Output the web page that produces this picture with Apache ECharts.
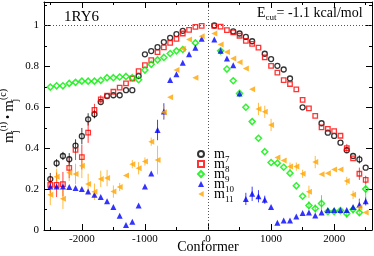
<!DOCTYPE html>
<html>
<head>
<meta charset="utf-8">
<script src="https://cdn.jsdelivr.net/npm/echarts@6/dist/echarts.min.js"></script>
<style>
html,body{margin:0;padding:0;background:#fff;}
#c{width:374px;height:256px;}
</style>
</head>
<body>
<div id="c"></div>
<script>
// Conformer positions (x)
const xs = [-2500,-2400,-2300,-2200,-2100,-2000,-1900,-1800,-1700,-1600,-1500,-1400,-1300,-1200,-1100,-1000,-900,-800,-700,-600,-500,-400,-300,-200,-100,
            100,200,300,400,500,600,700,800,900,1000,1100,1200,1300,1400,1500,1600,1700,1800,1900,2000,2100,2200,2300,2400,2500];
// series values
const m7 = [0.249,0.327,0.362,0.346,0.413,0.459,0.541,0.566,0.626,0.655,0.659,0.659,0.684,0.684,0.753,0.859,0.875,0.894,0.919,0.940,0.958,0.974,null,null,null,
            1.000,null,null,0.971,0.961,0.944,0.923,null,0.862,0.836,0.803,0.785,0.741,null,0.600,null,null,0.522,0.476,0.460,0.427,0.390,0.362,0.345,0.305];
const m8 = [0.221,0.221,0.224,0.304,0.392,0.356,0.476,0.587,0.639,0.657,0.676,0.696,0.717,0.741,0.777,0.806,0.831,0.870,0.893,0.915,0.935,0.961,0.979,0.993,0.998,
            0.998,0.995,0.977,0.966,0.950,0.925,0.910,0.892,0.844,0.803,0.770,0.733,0.714,0.688,0.636,0.595,0.558,0.502,0.495,0.484,0.461,0.400,0.350,0.275,0.245];
const m9 = [0.699,0.705,0.705,0.717,0.722,0.728,0.728,0.728,0.732,0.745,0.745,0.748,0.751,0.745,0.735,0.782,0.810,0.832,0.844,0.863,0.876,0.883,null,0.915,null,
            null,0.876,0.787,0.730,0.668,0.600,0.530,0.449,0.383,0.330,0.327,0.307,0.278,0.216,0.165,0.120,0.105,0.130,0.090,0.090,0.095,0.080,0.100,0.085,0.200];
const m10 = [0.213,0.213,0.213,0.210,0.205,0.201,0.188,0.172,0.161,0.140,0.112,0.070,0.024,0.040,0.120,0.213,0.276,0.489,0.580,0.733,0.762,0.818,0.859,0.891,0.935,
             0.932,0.876,0.839,0.806,0.668,0.152,0.177,0.165,0.148,0.113,0.036,0.046,0.046,0.066,0.083,0.086,0.071,0.086,0.098,0.098,0.098,0.098,0.112,0.123,0.140];
const m11 = [0.172,0.260,0.153,0.280,0.274,0.314,0.225,0.187,0.250,0.254,0.188,0.210,0.266,0.322,0.302,0.335,0.432,0.342,0.576,0.649,0.782,0.886,0.932,0.745,0.948,
             0.961,0.907,0.871,0.839,0.820,0.790,0.688,0.592,0.578,0.514,0.354,0.340,0.310,0.310,0.275,0.187,0.332,0.273,0.278,0.296,0.296,0.240,0.172,0.110,0.085];
// error bars: [x, half-width]
const err7 = [[-2500,0.03],[-2400,0.02],[-2300,0.02],[-2200,0.03],[-2100,0.03],[-2000,0.04],[-1900,0.03],[-1800,0.02],[2400,0.02]];
const err8 = [[-2500,0.04],[-2400,0.06],[-2300,0.06],[-2200,0.05],[-2100,0.05],[-2000,0.06],[-1900,0.05],[-1800,0.03],[-1700,0.02],[2200,0.02],[2400,0.03],[2500,0.02]];
const err9 = [[1600,0.02],[1700,0.02],[1800,0.04],[2200,0.02],[2300,0.02],[2500,0.04]];
const err10 = [[-800,0.05],[-700,0.04],[600,0.03],[700,0.035],[800,0.03],[900,0.02],[2400,0.03],[2500,0.02]];
const err11 = [[-2500,0.05],[-2400,0.04],[-2300,0.05],[-2200,0.04],[-2100,0.05],[-2000,0.06],[-1900,0.05],[-1800,0.04],[-1700,0.04],[-1600,0.04],[-1500,0.03],[-1400,0.02],
               [-1200,0.02],[-1100,0.03],[-1000,0.02],[-900,0.02],[-800,0.07],[-700,0.03],[800,0.03],[900,0.03],[1000,0.03],[1300,0.02],[1400,0.02],[1500,0.02],
               [1600,0.03],[1700,0.03],[2200,0.02],[2300,0.02],[2400,0.04]];
// tick labels
const xMajor = [-2000,-1000,0,1000,2000];
const xMinor = [-2500,-1500,-500,500,1500,2500];
const yMajor = [0,0.2,0.4,0.6,0.8,1];
const yMinor = [0.1,0.3,0.5,0.7,0.9,1.1];
const names = ['m7','m8','m9','m10','m11'];

const SERIF = '"Liberation Serif", "DejaVu Serif", serif';
const colors = ['#000000','#ff0000','#00ee00','#0000ff','#ffa500'];
const vals = [m7,m8,m9,m10,m11];
const errs = [err7,err8,err9,err10,err11];

const chart = echarts.init(document.getElementById('c'), null, {renderer:'canvas'});

function pts(v){ return xs.map((x,i)=>[x,v[i]]).filter(p=>p[1]!==null); }
function errData(v,e){
  return e.map(([x,d])=>{ const y=v[xs.indexOf(x)]; return [x,y-d,y+d]; });
}

const symbolDefs = [
  {symbol:'circle', size:5, style:{color:'rgba(0,0,0,0)', borderColor:colors[0], borderWidth:1.3}},
  {symbol:'rect', size:4.5, style:{color:'rgba(0,0,0,0)', borderColor:colors[1], borderWidth:1.3}},
  {symbol:'diamond', size:6, style:{color:'rgba(0,0,0,0)', borderColor:colors[2], borderWidth:1.5}},
  {symbol:'triangle', size:6, style:{color:colors[3], borderWidth:0}},
  {symbol:'path://M0,5L9,0L9,10Z', size:[6,6], style:{color:colors[4], borderWidth:0}}
];

const series = [];
vals.forEach((v,k)=>{
  const c = colors[k];
  series.push({
    type:'custom', name:names[k]+'_err', xAxisIndex:0, yAxisIndex:0, z:1, silent:true,
    data: errData(v, errs[k]), encode:{x:0, y:[1,2]},
    renderItem:function(params, api){
      const x=api.value(0), lo=api.value(1), hi=api.value(2);
      const p1=api.coord([x,lo]), p2=api.coord([x,hi]);
      return {type:'line', shape:{x1:p1[0],y1:p1[1],x2:p2[0],y2:p2[1]}, style:{stroke:c, lineWidth:1, opacity:0.75}};
    }
  });
});
vals.forEach((v,k)=>{
  const d = symbolDefs[k];
  series.push({
    type:'scatter', name:names[k], xAxisIndex:0, yAxisIndex:0, z:2,
    data: pts(v), symbol:d.symbol, symbolSize:d.size, itemStyle:d.style,
    emphasis:{disabled:true}, animation:false
  });
});
series[5].markLine = {
  silent:true, symbol:'none', animation:false,
  label:{show:false},
  lineStyle:{type:[1,2], color:'#555', width:1},
  data:[{yAxis:1},{xAxis:0}]
};

function xAx(pos, vals, len, showLine, showLabel){
  return {
    type:'value', gridIndex:0, position:pos, min:-2600, max:2600,
    axisLine:{show:showLine, onZero:false, lineStyle:{color:'#000', width:1}},
    axisTick:{show:true, inside:true, length:len, customValues:vals, lineStyle:{color:'#000', width:1}},
    axisLabel:{show:showLabel, customValues:vals, margin:4, fontFamily:SERIF, fontSize:11, color:'#000', formatter:v=>String(v)},
    splitLine:{show:false}
  };
}
function yAx(pos, vals, len, showLine, showLabel, withName){
  const a = {
    type:'value', gridIndex:0, position:pos, min:0, max:1.115,
    axisLine:{show:showLine, onZero:false, lineStyle:{color:'#000', width:1}},
    axisTick:{show:true, inside:true, length:len, customValues:vals, lineStyle:{color:'#000', width:1}},
    axisLabel:{show:showLabel, customValues:vals, margin:5, fontFamily:SERIF, fontSize:11, color:'#000', formatter:v=>String(v)},
    splitLine:{show:false}
  };
  if (withName){
    a.name = '{m|m}{s|j}{p|(i)}{d| • }{m|m}{s|j}{p|(c)}';
    a.nameLocation = 'middle';
    a.nameRotate = 90;
    a.nameGap = 24;
    a.nameMoveOverlap = false;
    a.nameTextStyle = {
      fontFamily:SERIF, color:'#000',
      rich:{
        m:{fontFamily:SERIF, fontSize:15, lineHeight:22, verticalAlign:'middle', color:'#000'},
        s:{fontFamily:SERIF, fontSize:10, lineHeight:10, verticalAlign:'bottom', color:'#000', width:0},
        p:{fontFamily:SERIF, fontSize:10, lineHeight:10, verticalAlign:'top', color:'#000'},
        d:{fontFamily:SERIF, fontSize:12, lineHeight:22, verticalAlign:'middle', color:'#000'}
      }
    };
  }
  return a;
}

const xAxes = [xAx('bottom', xMajor, 6, true, true), xAx('bottom', xMinor, 3, false, false),
               xAx('top', xMajor, 6, true, false), xAx('top', xMinor, 3, false, false)];
xAxes[0].name = 'Conformer';
xAxes[0].nameLocation = 'middle';
xAxes[0].nameGap = 10;
xAxes[0].nameMoveOverlap = false;
xAxes[0].nameTextStyle = {fontFamily:SERIF, fontSize:14, color:'#000'};

const yAxes = [yAx('left', yMajor, 6, true, true, true), yAx('left', yMinor, 3, false, false, false),
               yAx('right', yMajor, 6, true, false, false), yAx('right', yMinor, 3, false, false, false)];

chart.setOption({
  animation:false,
  backgroundColor:'#fff',
  grid:{left:44, right:2, top:2, bottom:26, containLabel:false, outerBoundsMode:'none'},
  xAxis:xAxes,
  yAxis:yAxes,
  legend:{
    data:names, orient:'vertical', left:192, top:142, itemWidth:6, itemHeight:6, itemGap:-7,
    selectedMode:false,
    formatter:n=>'{m|m}{s|'+n.slice(1)+'}',
    textStyle:{
      fontFamily:SERIF, color:'#000', padding:[0,0,0,5],
      rich:{
        m:{fontFamily:SERIF, fontSize:14, lineHeight:20, verticalAlign:'middle', color:'#000'},
        s:{fontFamily:SERIF, fontSize:9, lineHeight:9, verticalAlign:'bottom', color:'#000'}
      }
    }
  },
  graphic:[
    {type:'text', left:64, top:10, silent:true,
     style:{text:'1RY6', font:'15px '+SERIF, fill:'#000'}},
    {type:'text', left:257, top:6, silent:true,
     style:{text:'{e|E}{s|cut}{t|= -1.1 kcal/mol}', fill:'#000',
            rich:{
              e:{fontFamily:SERIF, fontSize:14, lineHeight:18, verticalAlign:'middle', fill:'#000'},
              s:{fontFamily:SERIF, fontSize:9, lineHeight:9, verticalAlign:'bottom', fill:'#000'},
              t:{fontFamily:SERIF, fontSize:14, lineHeight:18, verticalAlign:'middle', fill:'#000'}
            }}}
  ],
  series:series
});
</script>
</body>
</html>
